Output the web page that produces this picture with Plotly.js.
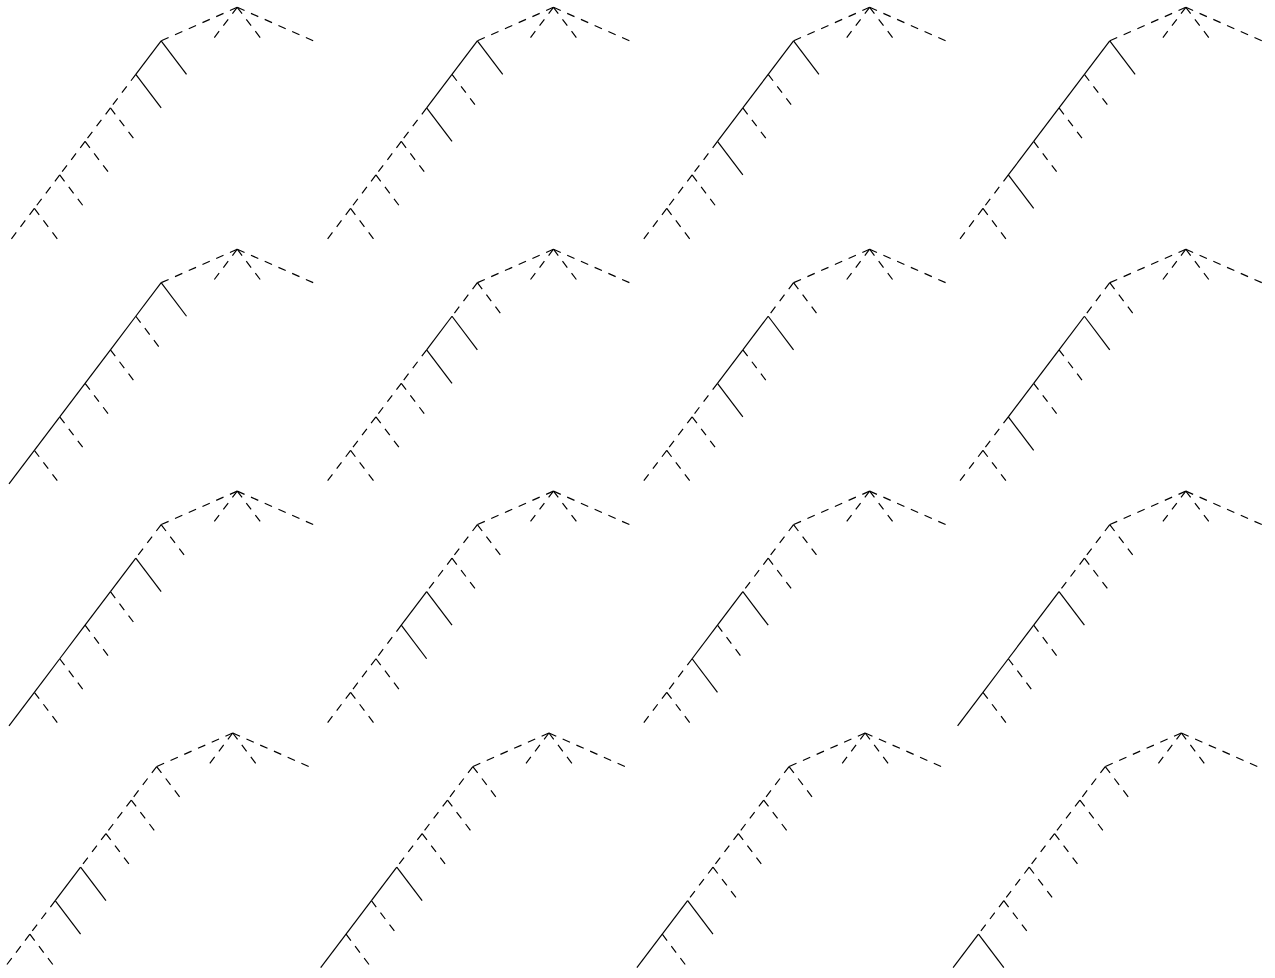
<!DOCTYPE html>
<html>
<head>
<meta charset="utf-8">
<script src="https://cdn.plot.ly/plotly-3.0.1.min.js"></script>
<style>html,body{margin:0;padding:0;background:#fff;}#chart{width:1275px;height:978px;}</style>
</head>
<body>
<div id="chart"></div>
<script>
// Tree nodes: horizontal position (layout units) and depth level
const nodeNames = ["root","c1","c2","c3","c4","c5","c6","l0","r1","r2","r3","r4","r5","r6","t1","t2","t3"];
const nodeX     = [9, 6, 5, 4, 3, 2, 1, 0, 7, 6, 5, 4, 3, 2, 8, 10, 12];
const nodeDepth = [0, 1, 2, 3, 4, 5, 6, 7, 2, 3, 4, 5, 6, 7, 1, 1, 1];

// Edges (parent -> child)
const edgeParent = ["root","root","root","root","c1","c2","c3","c4","c5","c6","c1","c2","c3","c4","c5","c6"];
const edgeChild  = ["c1","t1","t2","t3","c2","c3","c4","c5","c6","l0","r1","r2","r3","r4","r5","r6"];

// Per panel (row-major, 4x4): children of the edges drawn solid; all other edges dashed
const panelSolid = [
  ["c2","r1","r2"],
  ["c2","c3","r1","r3"],
  ["c2","c3","c4","r1","r4"],
  ["c2","c3","c4","c5","r1","r5"],
  ["c2","c3","c4","c5","c6","l0","r1"],
  ["c3","r2","r3"],
  ["c3","c4","r2","r4"],
  ["c3","c4","c5","r2","r5"],
  ["c3","c4","c5","c6","l0","r2"],
  ["c4","r3","r4"],
  ["c4","c5","r3","r5"],
  ["c4","c5","c6","l0","r3"],
  ["c5","r4","r5"],
  ["c5","c6","l0","r4"],
  ["c6","l0","r5"],
  ["l0","r6"]
];

const W = 1275, H = 978;
const colPitch = 316.2, rowPitch = 241.9;
const x0px = 9, unitPx = 25.36, y0px = 7.3, levelPx = 33.53;
const rowShift = [0, 0, 0, -4.5];
const padX = 0.15, padY = 0.15;
const xMax = 12, dMax = 7;

const idx = {};
nodeNames.forEach((n, i) => idx[n] = i);

const traces = [];
const layout = {
  width: W, height: H,
  margin: {l: 0, r: 0, t: 0, b: 0, pad: 0},
  paper_bgcolor: "#ffffff", plot_bgcolor: "#ffffff",
  showlegend: false, hovermode: false
};

for (let p = 0; p < panelSolid.length; p++) {
  const r = Math.floor(p / 4), c = p % 4;
  const k = p + 1;
  const xa = k === 1 ? "x" : "x" + k;
  const ya = k === 1 ? "y" : "y" + k;
  const leftPx = x0px + c * colPitch + rowShift[r] - padX * unitPx;
  const rightPx = leftPx + (xMax + 2 * padX) * unitPx;
  const topPx = y0px + r * rowPitch - padY * levelPx;
  const botPx = topPx + (dMax + 2 * padY) * levelPx;
  layout[k === 1 ? "xaxis" : "xaxis" + k] = {
    domain: [Math.max(0, leftPx / W), Math.min(1, rightPx / W)],
    range: [-padX, xMax + padX], visible: false, fixedrange: true,
    anchor: ya
  };
  layout[k === 1 ? "yaxis" : "yaxis" + k] = {
    domain: [Math.max(0, 1 - botPx / H), Math.min(1, 1 - topPx / H)],
    range: [dMax + padY, -padY], visible: false, fixedrange: true,
    anchor: xa
  };
  const solid = new Set(panelSolid[p]);
  for (let e = 0; e < edgeChild.length; e++) {
    const a = idx[edgeParent[e]], b = idx[edgeChild[e]];
    const isSolid = solid.has(edgeChild[e]);
    traces.push({
      type: "scatter", mode: "lines",
      x: [nodeX[a], nodeX[b]], y: [nodeDepth[a], nodeDepth[b]],
      xaxis: xa, yaxis: ya,
      line: {color: "#000000", width: 1.2, dash: isSolid ? "solid" : "8px,7px"},
      hoverinfo: "skip", showlegend: false
    });
  }
}

Plotly.newPlot("chart", traces, layout, {staticPlot: true, displayModeBar: false});
</script>
</body>
</html>
